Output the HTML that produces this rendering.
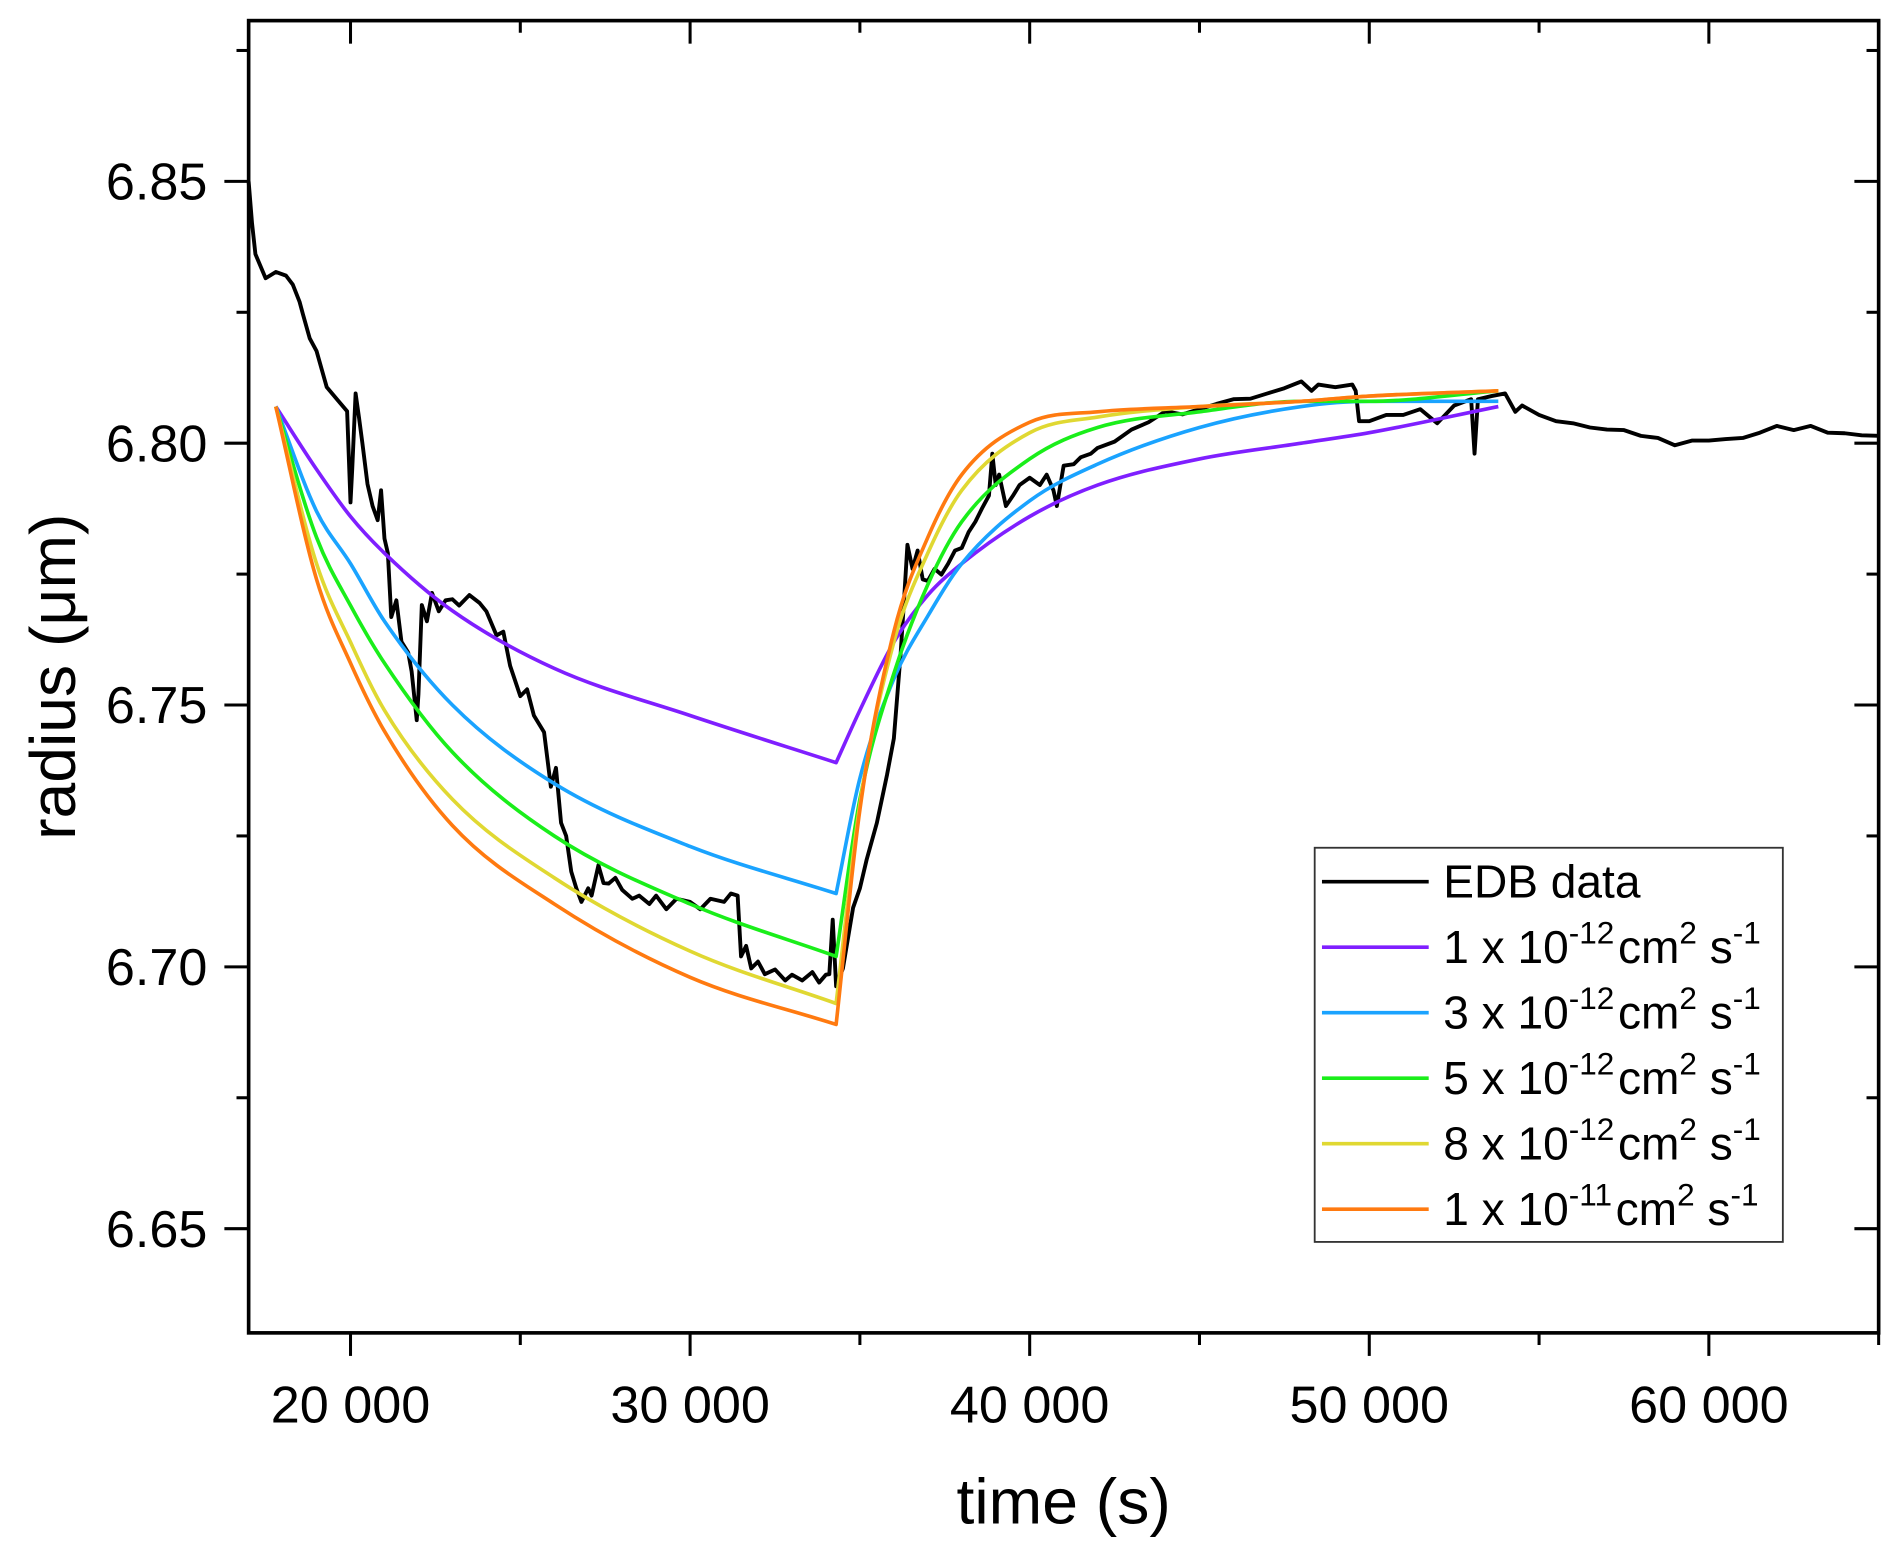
<!DOCTYPE html>
<html><head><meta charset="utf-8">
<style>
html,body{margin:0;padding:0;background:#fff;}
svg{display:block;font-family:"Liberation Sans",Arial,sans-serif;}
</style></head>
<body>
<svg id="chart" width="1892" height="1549" viewBox="0 0 1560 1277.2" xmlns="http://www.w3.org/2000/svg">
<g id="axes"></g>
<g id="series"></g>
<rect x="205" y="17" width="1344" height="1082" fill="none" stroke="#000" stroke-width="3"/>
<text x="877" y="1256" font-size="53" text-anchor="middle">time (s)</text>
<text transform="translate(62,558) rotate(-90)" font-size="53" text-anchor="middle">radius (μm)</text>
<g>
<rect x="1084" y="699" width="386" height="325" fill="#fff" stroke="#333" stroke-width="1.5"/>
<g id="legend-entries"></g>
</g>
</svg>
<script>
const X_MIN = 17000, X_MAX = 65000, Y_MIN = 6.6301, Y_MAX = 6.8807;
const xTicks = [20000, 30000, 40000, 50000, 60000];
const xTickLabels = ["20 000", "30 000", "40 000", "50 000", "60 000"];
const yTicks = [6.65, 6.70, 6.75, 6.80, 6.85];
const yTickLabels = ["6.65", "6.70", "6.75", "6.80", "6.85"];

const seriesNames = ["EDB data", "1e-12", "3e-12", "5e-12", "8e-12", "1e-11"];
const seriesColors = ["#000000", "#7f1fff", "#1aa3ff", "#1aee1a", "#e0d832", "#ff7a10"];

const edbT = [17000,17100,17200,17500,17800,18100,18300,18500,18600,18800,19000,19300,19600,19900,20000,20050,20150,20250,20350,20500,20650,20800,20900,21000,21100,21200,21350,21500,21700,21800,21950,22000,22100,22250,22400,22600,22800,23000,23200,23500,23800,24000,24300,24500,24700,25000,25200,25400,25700,25900,26050,26200,26350,26500,26650,26800,27000,27100,27300,27450,27600,27800,28000,28300,28500,28800,29000,29300,29600,30000,30300,30600,31000,31200,31400,31500,31650,31800,32000,32200,32500,32800,33000,33300,33600,33800,34000,34100,34200,34300,34500,34800,35000,35200,35500,35800,36000,36200,36300,36400,36550,36700,36850,37000,37200,37400,37600,37800,38000,38200,38400,38600,38800,38900,39000,39100,39300,39500,39700,40000,40300,40500,40700,40800,41000,41300,41500,41800,42000,42500,43000,43500,44000,44500,45000,45500,46000,46500,47000,47500,48000,48300,48500,49000,49500,49600,49700,50000,50500,51000,51500,52000,52500,53000,53100,53200,53600,54000,54300,54500,55000,55500,56000,56500,57000,57500,58000,58500,59000,59500,60000,60500,61000,61500,62000,62500,63000,63500,64000,64500,65000];
const edbR = [6.8500,6.8420,6.8361,6.8315,6.8327,6.8320,6.8303,6.8270,6.8246,6.8200,6.8176,6.8107,6.8084,6.8061,6.7887,6.7950,6.8095,6.8049,6.8000,6.7922,6.7880,6.7853,6.7910,6.7818,6.7790,6.7668,6.7700,6.7621,6.7600,6.7564,6.7471,6.7520,6.7691,6.7660,6.7714,6.7679,6.7700,6.7702,6.7690,6.7710,6.7695,6.7679,6.7633,6.7640,6.7575,6.7517,6.7530,6.7480,6.7448,6.7344,6.7380,6.7275,6.7250,6.7182,6.7150,6.7124,6.7150,6.7136,6.7194,6.7160,6.7159,6.7170,6.7147,6.7130,6.7136,6.7120,6.7136,6.7110,6.7130,6.7124,6.7110,6.7130,6.7124,6.7140,6.7136,6.7020,6.7040,6.6997,6.7010,6.6986,6.6995,6.6974,6.6985,6.6974,6.6990,6.6970,6.6985,6.6986,6.7090,6.6963,6.6997,6.7113,6.7150,6.7205,6.7275,6.7367,6.7436,6.7598,6.7700,6.7806,6.7760,6.7795,6.7740,6.7737,6.7760,6.7749,6.7770,6.7795,6.7800,6.7830,6.7850,6.7876,6.7900,6.7980,6.7920,6.7940,6.7880,6.7899,6.7920,6.7934,6.7920,6.7940,6.7910,6.7880,6.7957,6.7960,6.7973,6.7980,6.7991,6.8003,6.8026,6.8040,6.8061,6.8055,6.8065,6.8075,6.8084,6.8085,6.8095,6.8105,6.8118,6.8100,6.8112,6.8107,6.8112,6.8100,6.8042,6.8042,6.8054,6.8054,6.8065,6.8038,6.8072,6.8084,6.7980,6.8084,6.8090,6.8095,6.8060,6.8072,6.8054,6.8042,6.8038,6.8030,6.8026,6.8025,6.8014,6.8010,6.7996,6.8005,6.8005,6.8008,6.8010,6.8020,6.8033,6.8025,6.8033,6.8020,6.8019,6.8015,6.8014];

const modelT = [17800,19000,20000,21000,23000,26000,30000,34300,35000,36000,37000,38000,40000,42000,45000,48000,50000,53800];
const r1e12 = [6.807,6.795,6.786,6.779,6.768,6.757,6.748,6.739,6.749,6.762,6.771,6.777,6.786,6.792,6.797,6.800,6.802,6.807];
const r3e12 = [6.807,6.787,6.777,6.766,6.750,6.735,6.723,6.714,6.736,6.755,6.767,6.777,6.789,6.796,6.803,6.807,6.808,6.808];
const r5e12 = [6.807,6.782,6.769,6.758,6.741,6.725,6.712,6.702,6.732,6.756,6.773,6.785,6.797,6.803,6.806,6.808,6.808,6.810];
const r8e12 = [6.807,6.777,6.762,6.749,6.732,6.717,6.703,6.693,6.731,6.762,6.779,6.791,6.802,6.805,6.807,6.808,6.809,6.810];
const r1e11 = [6.807,6.774,6.758,6.745,6.727,6.712,6.698,6.689,6.730,6.764,6.782,6.794,6.804,6.806,6.807,6.808,6.809,6.810];

const PL = 205, PR = 1549, PT = 17, PB = 1099;
const NS = "http://www.w3.org/2000/svg";
function sx(t){ return PL + (t - X_MIN) / (X_MAX - X_MIN) * (PR - PL); }
function sy(r){ return PB - (r - Y_MIN) / (Y_MAX - Y_MIN) * (PB - PT); }
function mk(tag, attrs, parent){ const e = document.createElementNS(NS, tag); for (const k in attrs) e.setAttribute(k, attrs[k]); parent.appendChild(e); return e; }

const axes = document.getElementById('axes');
for (let t = 20000; t <= 65000; t += 5000) {
  const major = (t % 10000 === 0);
  const x = sx(t);
  const l1 = mk('line', {x1:x, y1:PB, x2:x, y2:PB + (major ? 19 : 10), stroke:'#000', 'stroke-width':2.5}, axes);
  
  
  const l2 = mk('line', {x1:x, y1:PT, x2:x, y2:PT + (major ? 19 : 10), stroke:'#000', 'stroke-width':2.5}, axes);
  
  
}
xTicks.forEach((t, i) => {
  const tx = mk('text', {x:sx(t), y:PB + 74, 'font-size':43, 'text-anchor':'middle'}, axes);
  tx.textContent = xTickLabels[i];
  
  
});
for (let k = 0; k <= 9; k++) {
  const r = 6.65 + k * 0.025;
  if (r > Y_MAX) break;
  const major = (k % 2 === 0);
  const y = sy(r);
  const l1 = mk('line', {x1:PL, y1:y, x2:PL - (major ? 20 : 10), y2:y, stroke:'#000', 'stroke-width':2.5}, axes);
  
  
  const l2 = mk('line', {x1:PR, y1:y, x2:PR - (major ? 20 : 10), y2:y, stroke:'#000', 'stroke-width':2.5}, axes);
  
  
}
yTicks.forEach((r, i) => {
  const tx = mk('text', {x:PL - 34, y:sy(r) + 15, 'font-size':43, 'text-anchor':'end'}, axes);
  tx.textContent = yTickLabels[i];
  
  
});

// monotone cubic (Fritsch-Carlson) on a segment of points
function monoSeg(p){
  const n = p.length;
  if (n < 2) return '';
  const d = [], m = [];
  for (let i = 0; i < n - 1; i++) d.push((p[i+1][1] - p[i][1]) / (p[i+1][0] - p[i][0]));
  m.push(d[0]);
  for (let i = 1; i < n - 1; i++) m.push(d[i-1] * d[i] <= 0 ? 0 : (d[i-1] + d[i]) / 2);
  m.push(d[n-2]);
  for (let i = 0; i < n - 1; i++) {
    if (d[i] === 0) { m[i] = 0; m[i+1] = 0; continue; }
    const a = m[i] / d[i], b = m[i+1] / d[i], s = a*a + b*b;
    if (s > 9) { const tt = 3 / Math.sqrt(s); m[i] = tt*a*d[i]; m[i+1] = tt*b*d[i]; }
  }
  let s = '';
  for (let i = 0; i < n - 1; i++) {
    const h = (p[i+1][0] - p[i][0]) / 3;
    s += ' C' + (p[i][0] + h) + ',' + (p[i][1] + m[i]*h) + ' ' + (p[i+1][0] - h) + ',' + (p[i+1][1] - m[i+1]*h) + ' ' + p[i+1][0] + ',' + p[i+1][1];
  }
  return s;
}
function smoothPath(ts, rs){
  const p = ts.map((t, i) => [sx(t), sy(rs[i])]);
  const k = 7; // switch point
  return 'M' + p[0][0] + ',' + p[0][1] + monoSeg(p.slice(0, k + 1)) + monoSeg(p.slice(k));
}

const series = document.getElementById('series');
const edbLine = mk('polyline', {points: edbT.map((t, i) => sx(t) + ',' + sy(edbR[i])).join(' '), fill:'none', stroke:seriesColors[0], 'stroke-width':3.2, 'stroke-linejoin':'round'}, series);



const models = [r1e12, r3e12, r5e12, r8e12, r1e11];
const modelNames = ['model-1e-12-line', 'model-3e-12-line', 'model-5e-12-line', 'model-8e-12-line', 'model-1e-11-line'];
models.forEach((rs, i) => {
  const pth = mk('path', {d: smoothPath(modelT, rs), fill:'none', stroke:seriesColors[i + 1], 'stroke-width':3, 'stroke-linejoin':'round'}, series);
  
  
});

const lg = document.getElementById('legend-entries');
const coef = ['1', '3', '5', '8', '1'];
const expo = ['-12', '-12', '-12', '-12', '-11'];
for (let i = 0; i < 6; i++) {
  const y = 727 + i * 54;
  const ln = mk('line', {x1:1090, y1:y, x2:1178, y2:y, stroke:seriesColors[i], 'stroke-width':3}, lg);
  
  
  const tx = mk('text', {x:1190, y:y + 13, 'font-size':38}, lg);
  
  
  if (i === 0) { tx.textContent = 'EDB data'; }
  else {
    tx.innerHTML = coef[i-1] + ' x 10<tspan font-size="26" dy="-16">' + expo[i-1] + '</tspan><tspan dy="16" dx="3">cm</tspan><tspan font-size="26" dy="-16">2</tspan><tspan dy="16"> s</tspan><tspan font-size="26" dy="-16">-1</tspan>';
  }
}
</script>
</body></html>
